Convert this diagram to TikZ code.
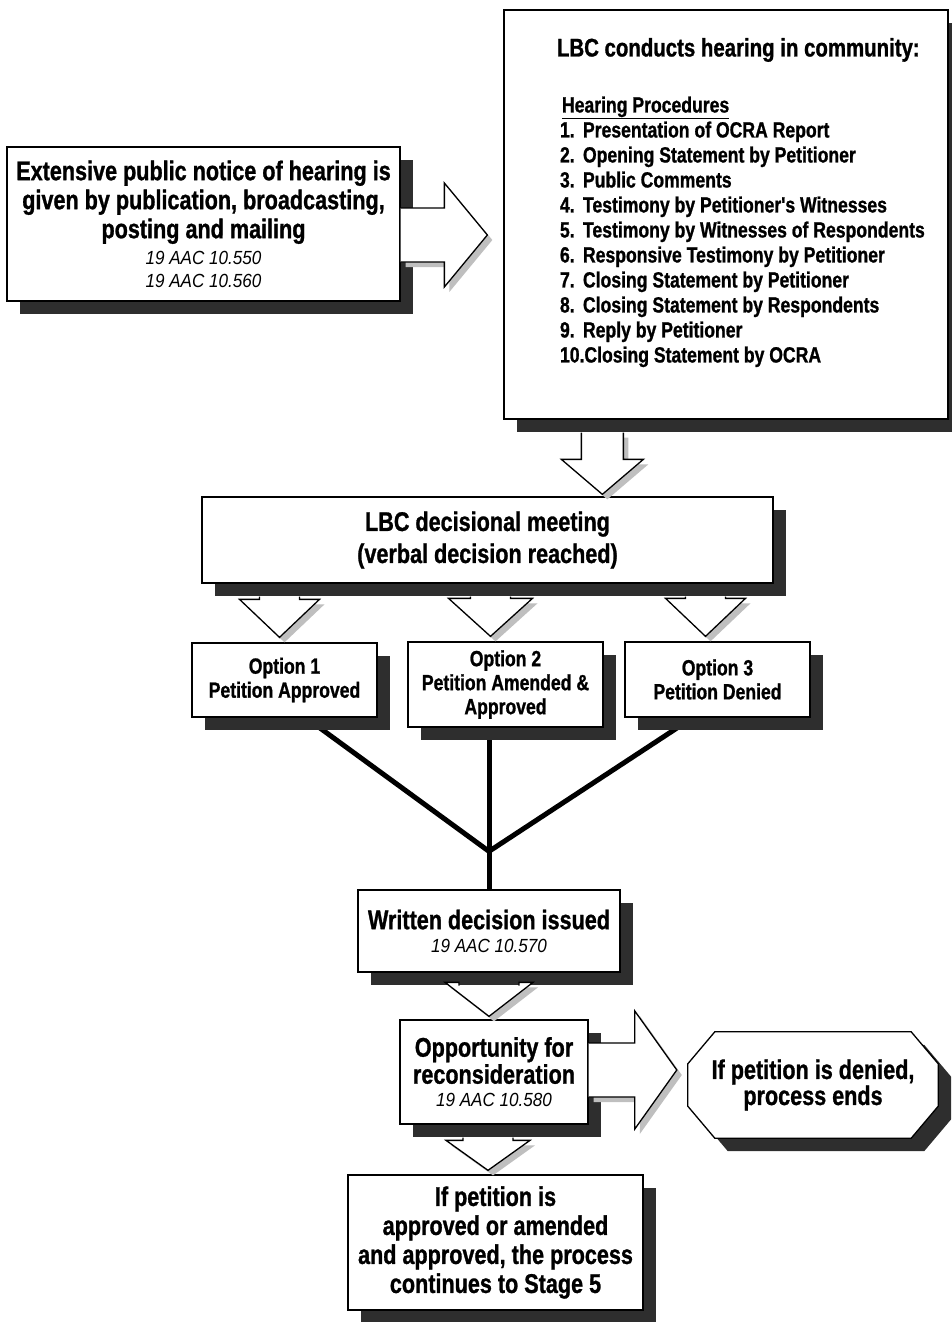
\documentclass[tikz,border=0pt]{standalone}
\usepackage{fontspec}
\newfontfamily\lbcfont[FakeStretch=0.80,FakeBold=1]{Liberation Sans}
\newfontfamily\aacfont[FakeStretch=0.90]{Liberation Sans}
\usetikzlibrary{calc,shadows,backgrounds}

\newcommand{\boxfont}{\lbcfont\bfseries\fontsize{27}{29}\selectfont}
\newcommand{\decfont}{\lbcfont\bfseries\fontsize{27}{32}\selectfont}
\newcommand{\optfont}{\lbcfont\bfseries\fontsize{22}{24}\selectfont}
\newcommand{\listfont}{\lbcfont\bfseries\fontsize{22}{25}\selectfont}
\newcommand{\aac}[1]{{\aacfont\itshape\mdseries\fontsize{19}{22}\selectfont 19 AAC 10.#1}}

\tikzset{
  boxshade/.style={draw, line width=1.3pt, fill=white,
    drop shadow={shadow xshift=13pt, shadow yshift=-13pt, fill=black!82, opacity=1}},
  stepbox/.style={boxshade, inner sep=2pt, align=center, font=\boxfont},
  optbox/.style={font=\optfont},
  fatarrow/.style={draw, line width=1.3pt, fill=white, line join=miter,
    preaction={draw=none, fill=black!25, transform canvas={shift={(5pt,-5pt)}}}},
  fatdown/.style n args={3}{to path={let \p1=(\tikztostart), \p2=(\tikztotarget) in
    (\x1-#1,\y1) -- (\x1-#1,\y2+#3) -- (\x1-#2,\y2+#3) -- (\x1,\y2)
    -- (\x1+#2,\y2+#3) -- (\x1+#1,\y2+#3) -- (\x1+#1,\y1)}},
  fatright/.style n args={3}{to path={let \p1=(\tikztostart), \p2=(\tikztotarget) in
    (\x1,\y1+#1) -- (\x2-#3,\y1+#1) -- (\x2-#3,\y1+#2) -- (\x2,\y1)
    -- (\x2-#3,\y1-#2) -- (\x2-#3,\y1-#1) -- (\x1,\y1-#1)}},
  joinline/.style={line width=5pt, black}
}

\begin{document}
\begin{tikzpicture}[x=1pt,y=-1pt]
  \useasboundingbox (0,0) rectangle (951,1322);

  \begin{scope}[every node/.style={stepbox}]
    \node[minimum width=393pt, minimum height=154pt] (notice) at (203.5,224)
      {Extensive public notice of hearing is\\given by publication, broadcasting,\\posting and mailing\\[-3pt]\aac{550}\\[-6pt]\aac{560}};
    \node[inner sep=0pt] (hearing) at (726,214.5) {\parbox[c][409pt][t]{444pt}{\raggedright
      \vspace*{28pt}
      {\leftskip=53pt\fontsize{25.5}{27}\selectfont LBC conducts hearing in community:\par}
      \vspace{31pt}
      {\listfont
      \leftskip=58pt \underline{Hearing Procedures}\par
      \leftskip=56pt
      \makebox[23pt][l]{1.}Presentation of OCRA Report\par
      \makebox[23pt][l]{2.}Opening Statement by Petitioner\par
      \makebox[23pt][l]{3.}Public Comments\par
      \makebox[23pt][l]{4.}Testimony by Petitioner's Witnesses\par
      \makebox[23pt][l]{5.}Testimony by Witnesses of Respondents\par
      \makebox[23pt][l]{6.}Responsive Testimony by Petitioner\par
      \makebox[23pt][l]{7.}Closing Statement by Petitioner\par
      \makebox[23pt][l]{8.}Closing Statement by Respondents\par
      \makebox[23pt][l]{9.}Reply by Petitioner\par
      10.Closing Statement by OCRA\par}}};
    \node[minimum width=571pt, minimum height=86pt, font=\decfont] (decide) at (487.5,540)
      {LBC decisional meeting\\(verbal decision reached)};
    \node[optbox, minimum width=185pt, minimum height=74pt] (opt1) at (284.5,680)
      {Option 1\\Petition Approved};
    \node[optbox, minimum width=195pt, minimum height=85pt] (opt2) at (505.5,684.5)
      {Option 2\\Petition Amended \&\\Approved};
    \node[optbox, minimum width=185pt, minimum height=75pt] (opt3) at (717.5,679.5)
      {Option 3\\Petition Denied};
    \node[minimum width=262pt, minimum height=82pt] (written) at (489,931)
      {Written decision issued\\[-6pt]\aac{570}};
    \node[minimum width=188pt, minimum height=104pt] (recon) at (494,1072)
      {Opportunity for\\[-2pt]reconsideration\\[-6pt]\aac{580}};
    \node[minimum width=295pt, minimum height=135pt] (final) at (495.5,1242.5)
      {If petition is\\approved or amended\\and approved, the process\\continues to Stage 5};
  \end{scope}
  \node[align=center, font=\boxfont, minimum width=250pt, minimum height=106pt] (denied) at (813,1085)
    {If petition is denied,\\[-3pt]process ends};

  % thick lines joining the three options, and the end octagon
  \coordinate (join) at ($(written.north)+(0,-38)$);
  \begin{scope}[on background layer]
    \draw[joinline] ($(opt1.south)+(35,10)$) -- (join);
    \draw[joinline] ($(opt3.south)+(-40,10)$) -- (join);
    \draw[joinline] (opt2.south -| join) -- (join) -- (written.north);
    \path[boxshade] ($(denied.north west)+(27,0)$) -- ($(denied.north east)+(-27,0)$)
      -- ($(denied.north east)+(0,32)$) -- ($(denied.south east)+(0,-32)$)
      -- ($(denied.south east)+(-27,0)$) -- ($(denied.south west)+(27,0)$)
      -- ($(denied.south west)+(0,-32)$) -- ($(denied.north west)+(0,32)$) -- cycle;
  \end{scope}

  % block arrows
  \coordinate (a1s) at ($(notice.east)+(0,11)$);
  \coordinate (a1t) at ($(a1s -| hearing.west)+(-16,0)$);
  \draw[fatarrow, fatright={27pt}{52pt}{43pt}] (a1s) to (a1t);

  \coordinate (a2s) at ($(hearing.south west)+(99,13)$);
  \coordinate (a2t) at ($(a2s |- decide.north)+(0,-2)$);
  \draw[fatarrow, fatdown={21pt}{41pt}{35pt}] (a2s) to (a2t);

  \coordinate (o1s) at ($(opt1.north |- decide.south)+(-5,13)$);
  \coordinate (o1t) at ($(opt1.north)+(-5,-5)$);
  \draw[fatarrow, fatdown={20pt}{40pt}{38pt}] (o1s) to (o1t);
  \coordinate (o2s) at ($(opt2.north |- decide.south)+(-15,13)$);
  \coordinate (o2t) at ($(opt2.north)+(-15,-5)$);
  \draw[fatarrow, fatdown={20pt}{42pt}{38pt}] (o2s) to (o2t);
  \coordinate (o3s) at ($(opt3.north |- decide.south)+(-12,13)$);
  \coordinate (o3t) at ($(opt3.north)+(-12,-5)$);
  \draw[fatarrow, fatdown={20pt}{40pt}{38pt}] (o3s) to (o3t);

  \coordinate (w1s) at ($(written.south)+(0,13)$);
  \coordinate (w1t) at ($(w1s |- recon.north)+(0,-3)$);
  \draw[fatarrow, fatdown={30pt}{44pt}{34pt}] (w1s) to (w1t);

  \coordinate (r1s) at ($(recon.south)+(-6,13)$);
  \coordinate (r1t) at ($(r1s |- final.north)+(0,-4)$);
  \draw[fatarrow, fatdown={25pt}{42pt}{30pt}] (r1s) to (r1t);

  \coordinate (r2s) at ($(recon.east)+(0,-2)$);
  \coordinate (r2t) at ($(r2s -| denied.west)+(-11,0)$);
  \draw[fatarrow, fatright={27pt}{59pt}{42pt}] (r2s) to (r2t);
\end{tikzpicture}
\end{document}
